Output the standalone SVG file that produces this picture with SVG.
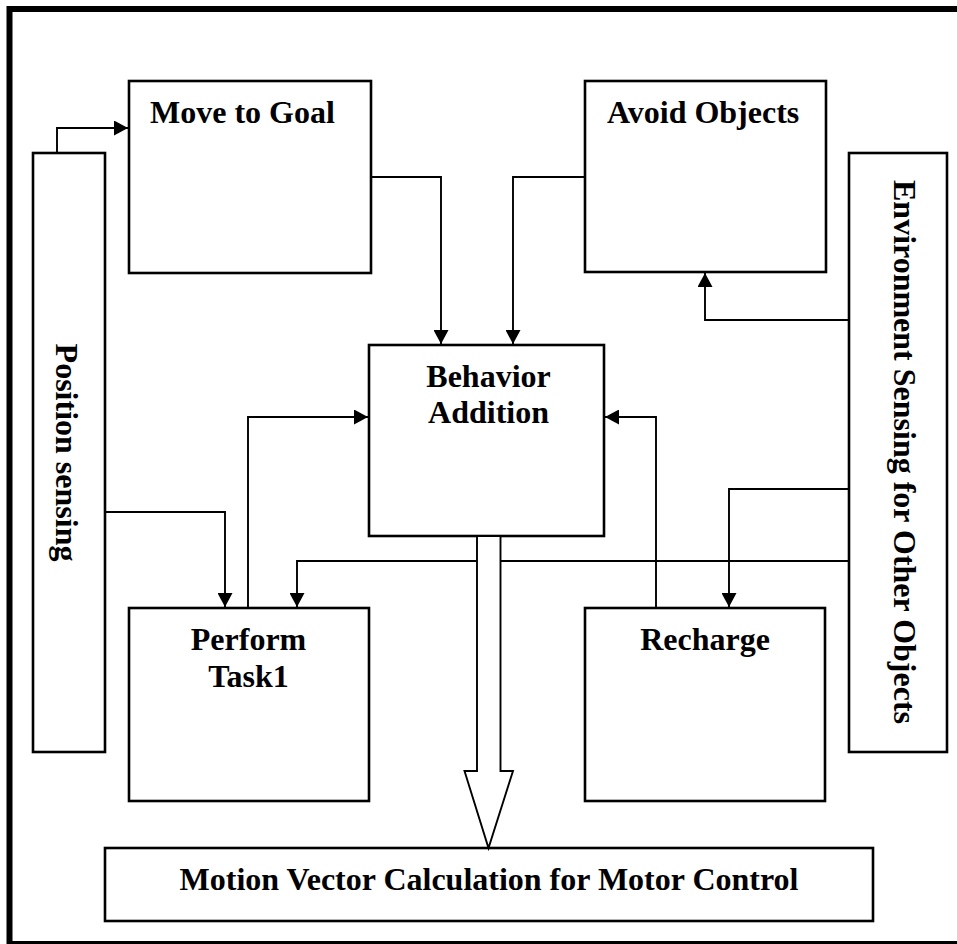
<svg xmlns="http://www.w3.org/2000/svg" width="957" height="944" viewBox="0 0 957 944">
  <style>
    .box { fill: #fff; stroke: #000; stroke-width: 2.6; }
    .lbl { font-family: "Liberation Serif", "Times New Roman", serif; font-weight: bold; font-size: 32px; fill: #000; }
    .mid { text-anchor: middle; }
    .wire { fill: none; stroke: #000; stroke-width: 1.9; marker-end: url(#tip); }
    .hollow { fill: #fff; stroke: #000; stroke-width: 1.9; stroke-linejoin: miter; }
  </style>
  <defs>
    <marker id="tip" markerUnits="userSpaceOnUse" markerWidth="14" markerHeight="15" refX="14" refY="7.5" orient="auto">
      <path d="M0,0 L14,7.5 L0,15 z" fill="#000"/>
    </marker>
  </defs>

  <rect width="957" height="944" fill="#fff"/>
  <!-- outer frame -->
  <rect x="9.5" y="9" width="970" height="935" fill="none" stroke="#000" stroke-width="6"/>

  <g id="position-sensing">
    <rect class="box" x="33" y="153" width="72" height="599"/>
    <text class="lbl mid" transform="translate(56,452.5) rotate(90)">Position sensing</text>
  </g>

  <g id="environment-sensing">
    <rect class="box" x="849" y="153" width="98" height="599"/>
    <text class="lbl mid" transform="translate(894,452) rotate(90)">Environment Sensing for Other Objects</text>
  </g>

  <g id="move-to-goal">
    <rect class="box" x="129" y="81" width="242" height="192"/>
    <text class="lbl" x="150" y="123">Move to Goal</text>
  </g>

  <g id="avoid-objects">
    <rect class="box" x="585" y="81" width="241" height="191"/>
    <text class="lbl" x="607" y="123">Avoid Objects</text>
  </g>

  <g id="behavior-addition">
    <rect class="box" x="369" y="345" width="235" height="191"/>
    <text class="lbl mid" x="488.5" y="387">Behavior</text>
    <text class="lbl mid" x="488.5" y="423">Addition</text>
  </g>

  <g id="perform-task1">
    <rect class="box" x="129" y="608" width="240" height="193"/>
    <text class="lbl mid" x="248.5" y="650">Perform</text>
    <text class="lbl mid" x="248.5" y="687">Task1</text>
  </g>

  <g id="recharge">
    <rect class="box" x="585" y="608" width="240" height="193"/>
    <text class="lbl mid" x="705" y="650">Recharge</text>
  </g>

  <g id="motion-vector">
    <rect class="box" x="105" y="848" width="768" height="73"/>
    <text class="lbl mid" x="489" y="890">Motion Vector Calculation for Motor Control</text>
  </g>

  <g id="connectors">
    <path class="wire" d="M57,153 V128 H128"/>
    <path class="wire" d="M371,177 H441 V344"/>
    <path class="wire" d="M585,177 H513 V344"/>
    <path class="wire" d="M849,320 H705 V273"/>
    <path class="wire" d="M105,512 H225 V607"/>
    <path class="wire" d="M248,608 V417 H368"/>
    <path class="wire" d="M849,561 H297 V607"/>
    <path class="wire" d="M849,489 H729 V607"/>
    <path class="wire" d="M656,608 V417 H605"/>
    <!-- wide output arrow into the motor control block -->
    <path class="hollow" d="M477,537 V771 H464.5 L488.5,848 L513,771 H500.5 V537"/>
  </g>
</svg>
